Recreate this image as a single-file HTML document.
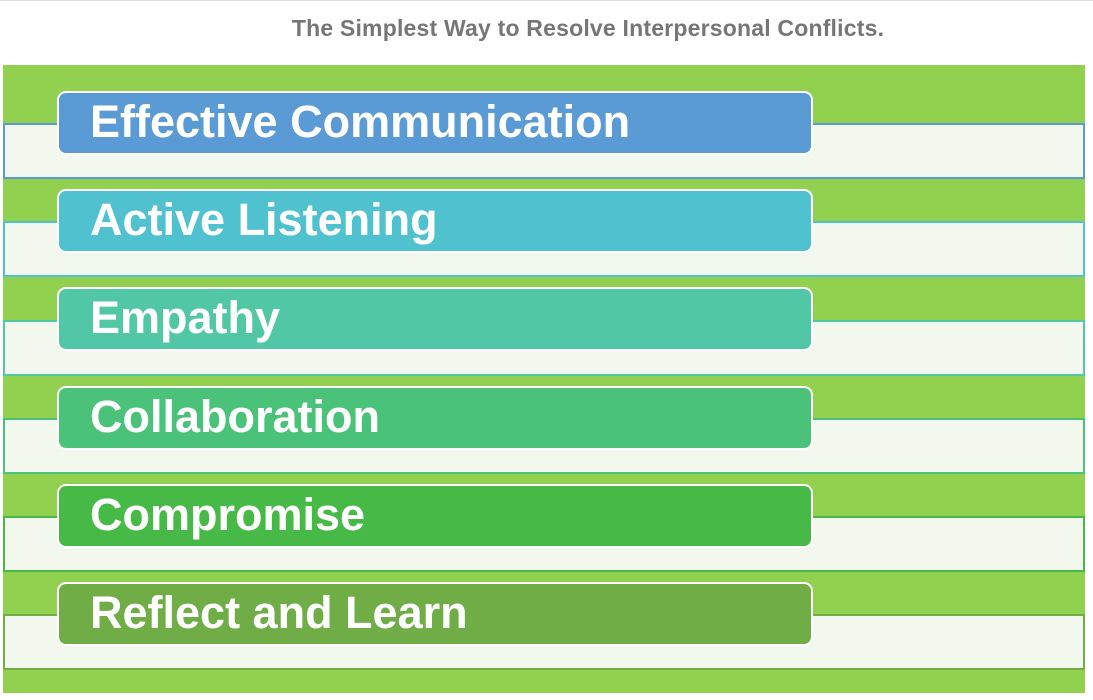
<!DOCTYPE html>
<html><head><style>
body{margin:0;width:1093px;height:700px;background:#fff;position:relative;overflow:hidden;font-family:"Liberation Sans",sans-serif}
.title{position:absolute;top:15px;left:0;width:1176px;text-align:center;font-size:23px;font-weight:bold;color:#767676;letter-spacing:0.2px}
.topline{position:absolute;top:0;left:0;width:1093px;height:1px;background:#ddd}
.bg{position:absolute;left:3px;top:65px;width:1082px;height:628px;background:#92D050}
.bar{position:absolute;left:3px;width:1078px;height:52px;background:#F3F8EE;border:2px solid}
.pill{position:absolute;left:57px;width:721px;height:60px;border:2px solid #fff;border-radius:9px;color:#fff;font-weight:bold;font-size:45px;line-height:58px;padding-left:31px;box-sizing:content-box}
</style></head><body>
<div class="topline"></div>
<div class="title">The Simplest Way to Resolve Interpersonal Conflicts.</div>
<div class="bg"></div>
<div class="bar" style="top:123px;border-color:#5B9BD5"></div>
<div class="bar" style="top:221px;border-color:#4FC1CF"></div>
<div class="bar" style="top:320px;border-color:#52C7A6"></div>
<div class="bar" style="top:418px;border-color:#4BC27A"></div>
<div class="bar" style="top:516px;border-color:#47B946"></div>
<div class="bar" style="top:614px;border-color:#70AD47"></div>
<div class="pill" style="top:91px;background:#5B9BD5">Effective Communication</div>
<div class="pill" style="top:189px;background:#4FC1CF">Active Listening</div>
<div class="pill" style="top:287px;background:#52C7A6">Empathy</div>
<div class="pill" style="top:386px;background:#4BC27A">Collaboration</div>
<div class="pill" style="top:484px;background:#47B946">Compromise</div>
<div class="pill" style="top:582px;background:#70AD47">Reflect and Learn</div>
</body></html>
